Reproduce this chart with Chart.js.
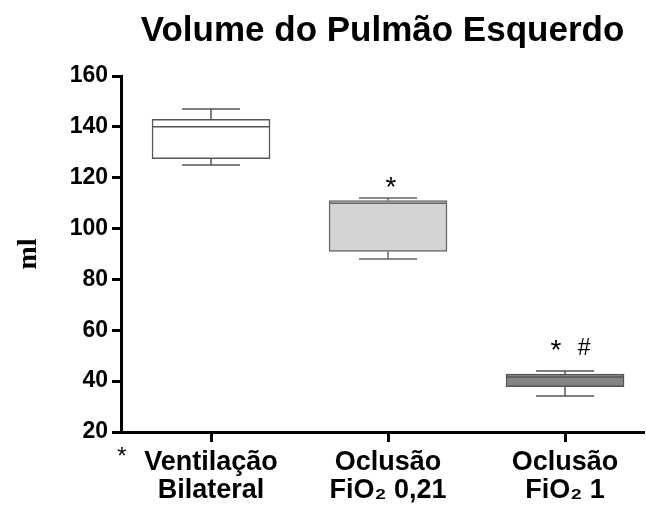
<!DOCTYPE html>
<html lang="pt">
<head>
<meta charset="UTF-8">
<title>Volume do Pulmão Esquerdo</title>
<script src="https://cdn.jsdelivr.net/npm/chart.js"></script>
<style>
  body { margin: 0; background: #fff; }
  #wrap { width: 646px; height: 507px; }
</style>
</head>
<body>
<div id="wrap"><canvas id="boxChart"></canvas></div>
<script>
// data
const groups = [["Ventilação", "Bilateral"], ["Oclusão", "FiO₂ 0,21"], ["Oclusão", "FiO₂ 1"]];
const whiskerMin = [125, 88, 34.2];
const q1 = [127.5, 91, 37.8];
const median = [140, 110, 41.6];
const q3 = [143, 111, 42.8];
const whiskerMax = [147, 112, 44];
const marks = ["", "*", "*"];
const marks2 = ["", "", "#"];
const markLevel = [0, 112.9, 48.7]; // baseline of the star marks
const hashLevel = 50.3;
const yTicks = [20, 40, 60, 80, 100, 120, 140, 160];

const boxFill = ["#ffffff", "#d4d4d4", "#848484"];
const boxLine = ["#555555", "#666666", "#555555"];

// whiskers, medians and the significance marks
const boxExtras = {
  id: 'boxExtras',
  afterDatasetsDraw(chart) {
    const ctx = chart.ctx;
    const x = chart.scales.x, y = chart.scales.y;
    ctx.save();
    for (let i = 0; i < groups.length; i++) {
      const cx = x.getPixelForValue(i + 1);
      const half = 59, cap = 29;
      ctx.strokeStyle = boxLine[i];
      ctx.lineWidth = 1.5;
      ctx.beginPath();
      // median
      ctx.moveTo(cx - half, y.getPixelForValue(median[i]));
      ctx.lineTo(cx + half, y.getPixelForValue(median[i]));
      // upper whisker
      ctx.moveTo(cx, y.getPixelForValue(q3[i]));
      ctx.lineTo(cx, y.getPixelForValue(whiskerMax[i]));
      ctx.moveTo(cx - cap, y.getPixelForValue(whiskerMax[i]));
      ctx.lineTo(cx + cap, y.getPixelForValue(whiskerMax[i]));
      // lower whisker
      ctx.moveTo(cx, y.getPixelForValue(q1[i]));
      ctx.lineTo(cx, y.getPixelForValue(whiskerMin[i]));
      ctx.moveTo(cx - cap, y.getPixelForValue(whiskerMin[i]));
      ctx.lineTo(cx + cap, y.getPixelForValue(whiskerMin[i]));
      ctx.stroke();
    }
    ctx.fillStyle = '#000';
    ctx.textBaseline = 'alphabetic';
    ctx.textAlign = 'center';
    ctx.font = '28px "Liberation Sans", Arial, sans-serif';
    ctx.fillText(marks[1], x.getPixelForValue(2) + 3, y.getPixelForValue(markLevel[1]));
    ctx.fillText(marks[2], x.getPixelForValue(3) - 9, y.getPixelForValue(markLevel[2]));
    ctx.font = '23px "Liberation Sans", Arial, sans-serif';
    ctx.fillText(marks2[2], x.getPixelForValue(3) + 19, y.getPixelForValue(hashLevel));
    // footnote star under the axis corner
    ctx.font = '24px "Liberation Sans", Arial, sans-serif';
    ctx.fillText('*', chart.chartArea.left + 1, chart.chartArea.bottom + 32);
    ctx.restore();
  }
};

const ctx = document.getElementById('boxChart');
new Chart(ctx, {
  type: 'bar',
  data: {
    datasets: [{
      data: groups.map((g, i) => ({ x: i + 1, y: [q1[i], q3[i]] })),
      backgroundColor: boxFill,
      borderColor: boxLine,
      borderWidth: 1.5,
      borderSkipped: false,
      barThickness: 118
    }]
  },
  options: {
    responsive: true,
    maintainAspectRatio: false,
    animation: false,
    layout: { padding: { left: 0, right: 2, top: 0, bottom: 0 } },
    plugins: {
      legend: { display: false },
      tooltip: { enabled: false },
      title: {
        display: true,
        fullSize: false,
        text: 'Volume do Pulmão Esquerdo',
        color: '#000',
        font: { family: '"Liberation Sans", Arial, sans-serif', size: 35, weight: 'bold', lineHeight: 1.2 },
        padding: { top: 10, bottom: 24 }
      }
    },
    scales: {
      x: {
        type: 'linear',
        offset: false,
        min: 0.4915,
        max: 3.446,
        afterBuildTicks: axis => { axis.ticks = groups.map((g, i) => ({ value: i + 1 })); },
        afterFit: scale => { scale.height = 75; },
        grid: { offset: false, drawOnChartArea: false, drawTicks: true, tickLength: 10, tickWidth: 3, tickColor: '#000' },
        border: { display: true, color: '#000', width: 3 },
        ticks: {
          color: '#000',
          padding: 6,
          maxRotation: 0,
          autoSkip: false,
          font: { family: '"Liberation Sans", Arial, sans-serif', size: 27, weight: 'bold', lineHeight: 1.05 },
          callback: v => groups[v - 1] || ''
        }
      },
      y: {
        min: 20,
        max: 160,
        afterBuildTicks: axis => { axis.ticks = yTicks.map(v => ({ value: v })); },
        afterFit: scale => { scale.width = 121; },
        grid: { drawOnChartArea: false, drawTicks: true, tickLength: 9, tickWidth: 3, tickColor: '#000' },
        border: { display: true, color: '#000', width: 3 },
        ticks: {
          color: '#000',
          padding: 4,
          font: { family: '"Liberation Sans", Arial, sans-serif', size: 23, weight: 'bold' }
        },
        title: {
          display: true,
          text: 'ml',
          color: '#000',
          padding: { top: 12, bottom: 0 },
          font: { family: '"Liberation Serif", "Times New Roman", serif', size: 28, weight: 'bold', lineHeight: 1.2 }
        }
      }
    }
  },
  plugins: [boxExtras]
});
</script>
</body>
</html>
